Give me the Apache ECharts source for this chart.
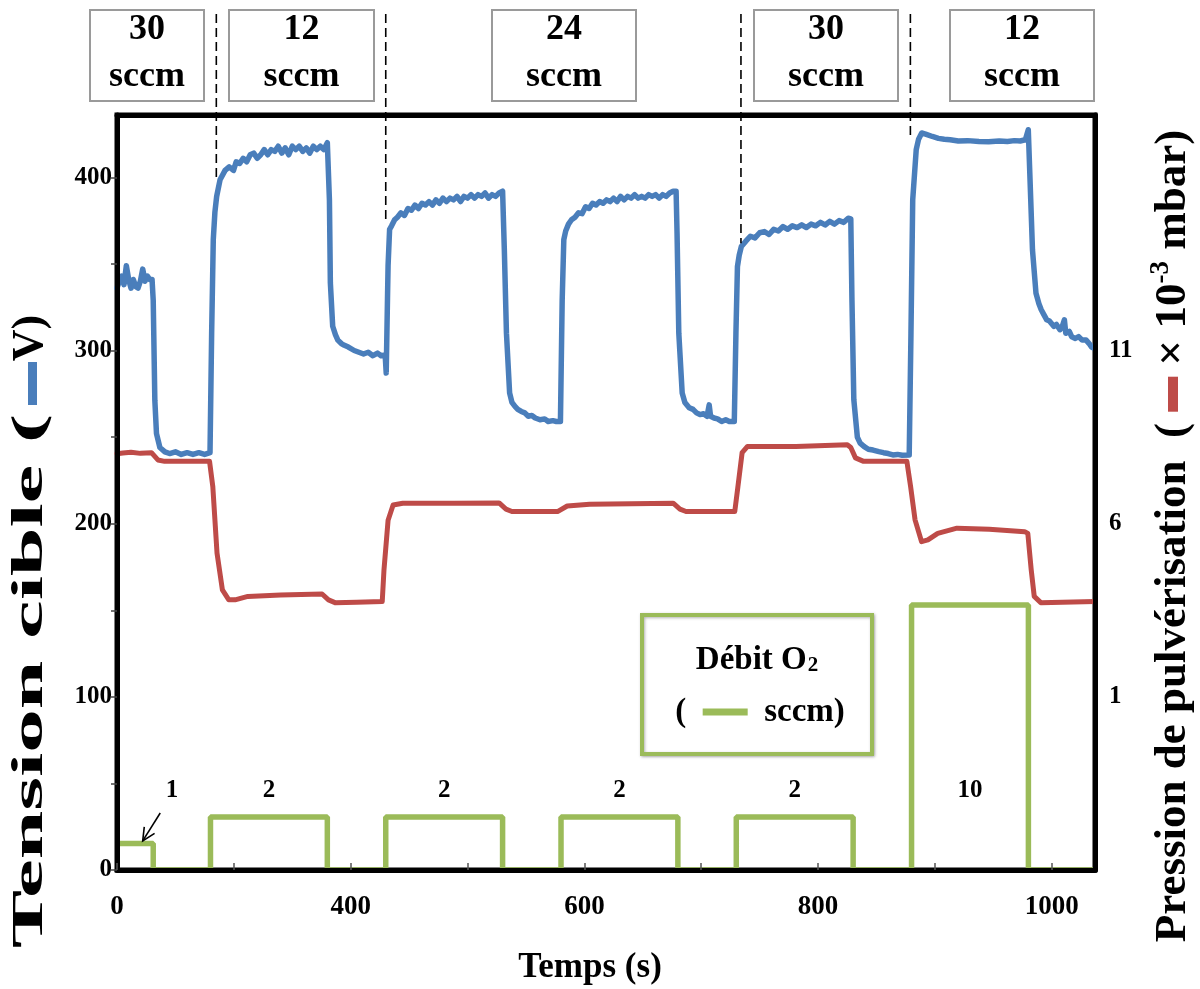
<!DOCTYPE html>
<html><head><meta charset="utf-8">
<script src="https://cdn.jsdelivr.net/npm/echarts@6/dist/echarts.min.js"></script>
<style>html,body{margin:0;padding:0;background:#fff}#c{width:1200px;height:989px}</style>
</head><body><div id="c"></div>
<script>
// ---- DATA ----
// Target voltage (V) vs time (s)
const voltage = [[200,336],[202,340],[204,343],[206,338],[208,349],[210,341],[212,336],[214,341],[216,337],[218,336],[220,340],[222,347],[224,340],[226,343],[228,341],[230,341],
[231,329],[232.4,271],[233.8,252],[236.7,244],[241,241.5],[245,240.5],[250,241.5],[255,240],[260,241],[265,240],[270,241],[275,240],[279.6,241],
[281,310],[282.4,364],[283.8,380],[285.3,389],[288.2,398.6],[292.5,404],[296,406],[299.7,404],[302,409],[305,408],[308,411],[311,409],[314,413],[317,414],[320,411],[323,413],[326,416],[329,413],[332,416],[335,415],[338,418],[341,414],[344,417],[347,413],[350,418],[353,416],[356,418],[359,415],[362,417],[365,414],[368,418],[371,416],[374,418],[377,416],[380,420],
[381.8,387],[382.6,339],[384.6,314],[387,309],[389,306],[392,304],[394.6,303],[398,302],[403,300],[407,299],[411,298],[415,299],[419,297],[423,298.5],[426,297],[429.5,297.5],[430.4,287],
[431.5,330],[432,349],[433.3,370],[435,372],[437.6,375.5],[440,377],[443,379.5],[446,378],[449,382],[452,381],[455,384],[458,382],[461,385],[464,384],[467,386],[470,384],[473,387],[476,385],[479,388],[482,386],[485,388],[488,387],[491,389],[494,386],[497,389],[500,388],[503,390],[506,388],[509,390],[512,389],[515,391],[518,388],[521,390],[524,389],[527,391],[530,392],
[531.5,358],[533.3,310],[536,275.5],[538,270],[540.6,267.7],[543,266],[546,264.8],[549,264],[552,262],[555,262.5],[558,261],[562,260],[566,260.5],[569,259],[573,259.5],[576,259],[579.5,259],
[581,329],[582.4,364],[584,369],[586.4,373],[589,375.5],[592,377],[595,379.5],[598,379],[601,383],[604,382],[607,385],[610,384],[613,386],[616,385],[619,387],[622,386],[625,388],[628,386],[631,389],[634,387],[637,389],[640,388],[643,390],[646,388],[649,389],[652,388],[655,390],[658,389],[661,390],[664,388],[667,390],[670,389],[673,391],[676,392],[678.5,392],
[679.3,368],[680.8,310],[683.7,275.5],[686,270],[689.7,267],[693,266],[696,264],[699,263],[702,263.5],[705,262],[706.8,268.6],[708,262],[711,261],[714,260.5],[717.5,259],[721,260],[724,259],[728.3,259],
[729.7,310],[731,348.5],[732.5,355],[734.3,360],[738,363],[742,366],[746,365],[750,368],[754,368.7],[758,367],[762,370],[766,369],[770,371.6],[774,370],[778,372],[782,371],[786,372.6],[790,371],[794,373],[798,372],[802,374],[806,372.5],[810,374.6],[814,373],[818,375],[822,374],[825.8,376.4],[828,376],
[829,329],[830.6,271.5],[833.6,250],[836,246.5],[839.5,244.5],[843,243],[847,242.5],[852,241.6],[856,241],[860,240.5],[864,239.7],[868,240],[872,239.5],[878,239.7],
[879.5,310],[881,387],[884,416],[886,422],[888.7,425.6],[892,425],[897.8,423.6],[903,422.5],[908,422],[913,421.7],[920,421],[928,421.2],[937.7,420.7],[946,420.5],[955,421],[962,420.7],[968,421.2],[973,421],[977.4,421.7],[979.9,427.5],
[982,387],[983.5,358],[986.5,333],[989,327],[991,323.5],[993,321],[995.7,317.7],[998,317],[1001.9,313.9],[1004,315],[1007,312],[1009,314],[1010.8,317.7],[1012,310],[1015,311],[1017,308],[1020.2,307],[1023,308],[1026,306],[1029.4,306],[1032,304],[1034,302],[1037,301]];

// Sputtering pressure (x 10^-3 mbar) vs time (s)
const pressure = [[200,8.02],[205,8.04],[212,8.06],[220,8.03],[229.5,8.05],[235,7.84],[240.8,7.8],[260,7.8],[279.2,7.8],[282,7.07],[285.6,5.15],[290.2,4.09],[295.7,3.8],[301,3.8],[312,3.9],[340,3.94],[375.5,3.97],[381,3.8],[386.6,3.72],[405,3.73],[427,3.75],[428.5,4.67],[432,6.1],[436.3,6.54],[444.6,6.59],[488.5,6.59],[527,6.6],[532.9,6.42],[538,6.35],[577,6.35],[585.3,6.51],[604.5,6.56],[676,6.59],[681.8,6.42],[687,6.35],[728.7,6.35],[731.4,7.07],[735,8.05],[739.6,8.23],[780.9,8.23],[825,8.28],[828,8.2],[832,7.9],[839,7.8],[876,7.8],[879.2,7.07],[883,6.11],[888.6,5.48],[894,5.53],[902.4,5.72],[918.9,5.87],[946.5,5.84],[976.8,5.77],[979.5,5.72],[982.4,4.67],[985,3.9],[990.6,3.72],[1037,3.75]];

// O2 flow (sccm) step changes
const o2Time = [200,231,280,380,430,530,580,680,730,830,880,980,1037];
const o2Flow = [1,0,2,0,2,0,2,0,2,0,10,0,0];

// Pulse value labels
const pulseLabelTime = [247,330,480,630,780,930];
const pulseLabelText = ['1','2','2','2','2','10'];
const pulseLabelLevel = 3;

// Ar flow boxes at top
const arFlowValues = ['30','12','24','30','12'];
// Ar flow change moments (dashed lines): time and end voltage
const changeTime = [285,430,734,879];
const changeEndV = [400,373,362,423];
// arrow pointing to the 1 sccm step (time, sccm)
const arrowTail = [237,2.15];
const arrowTip = [222,1.1];

// Ticks and tick labels
const xTicks = [200,300,400,500,600,700,800,900,1000];
const xTickLabels = {200:'0',400:'400',600:'600',800:'800',1000:'1000'};
const leftTicks = [0,50,100,150,200,250,300,350,400];
const leftTickLabels = [0,100,200,300,400];
const rightTickLabels = [1,6,11];

// ---- CHART ----
const SERIF = '"Liberation Serif","Times New Roman",serif';
const BLUE = '#4a7ebb', RED = '#be4b48', GREEN = '#9bbb59';
const chart = echarts.init(document.getElementById('c'));

const option = {
  animation:false,
  backgroundColor:'#fff',
  grid:{left:117,right:105,top:115,bottom:119,show:true,borderColor:'#000',borderWidth:5,backgroundColor:'transparent'},
  xAxis:[{
    type:'value',min:200,max:1037,position:'bottom',z:10,
    axisLine:{show:true,onZero:false,lineStyle:{color:'#000',width:5}},
    axisTick:{show:true,inside:true,length:7,customValues:xTicks,lineStyle:{color:'#555',width:1.5}},
    axisLabel:{margin:24,fontFamily:SERIF,fontWeight:'bold',fontSize:27,color:'#000',
      customValues:Object.keys(xTickLabels).map(Number),
      formatter:v=> (xTickLabels[v]!==undefined?xTickLabels[v]:'')},
    splitLine:{show:false}
  },{
    type:'value',min:200,max:1037,position:'top',z:10,
    axisLine:{show:true,onZero:false,lineStyle:{color:'#000',width:5}},
    axisTick:{show:false},axisLabel:{show:false},splitLine:{show:false}
  }],
  yAxis:[{
    type:'value',min:0,max:436,position:'left',z:10,
    axisLine:{show:true,onZero:false,lineStyle:{color:'#000',width:5}},
    axisTick:{show:true,length:6,customValues:leftTicks,lineStyle:{color:'#444',width:1.5}},
    axisLabel:{margin:5,fontFamily:SERIF,fontWeight:'bold',fontSize:25,color:'#000',
      customValues:leftTickLabels,formatter:v=>String(v)},
    splitLine:{show:false}
  },{
    type:'value',min:-4,max:17.8,position:'right',z:10,
    axisLine:{show:true,onZero:false,lineStyle:{color:'#000',width:5}},
    axisTick:{show:false},
    axisLabel:{margin:14,fontFamily:SERIF,fontWeight:'bold',fontSize:25,color:'#000',
      customValues:rightTickLabels,formatter:v=>String(v)},
    splitLine:{show:false}
  },{
    type:'value',min:0,max:28.5,show:false
  }],
  series:[{
    name:'Tension cible',type:'line',xAxisIndex:0,yAxisIndex:0,data:voltage,symbol:'none',
    lineStyle:{color:BLUE,width:5.5,cap:'round',join:'round'},z:3
  },{
    name:'Pression de pulvérisation',type:'line',xAxisIndex:0,yAxisIndex:1,data:pressure,symbol:'none',
    lineStyle:{color:RED,width:5,cap:'round',join:'round'},z:2
  },{
    name:'Débit O2',type:'line',xAxisIndex:0,yAxisIndex:2,step:'end',
    data:o2Time.map((t,i)=>[t,o2Flow[i]]),symbol:'none',
    lineStyle:{color:GREEN,width:5.5},z:2
  }]
};
chart.setOption(option);

// ---- ANNOTATIONS ----
const g = [];
const P = (si,p)=>chart.convertToPixel({seriesIndex:si},p);

// Ar flow boxes (layout)
const boxLeft = [90,229,492,754,950];
const boxWidth = [114,145,144,144,144];
arFlowValues.forEach((v,i)=>{
  g.push({type:'rect',shape:{x:boxLeft[i],y:10,width:boxWidth[i],height:91},
    style:{fill:'#fff',stroke:'#9a9a9a',lineWidth:2},z:20});
  g.push({type:'text',x:boxLeft[i]+boxWidth[i]/2,y:53,z:21,
    style:{text:v+'\nsccm',fontFamily:SERIF,fontWeight:'bold',fontSize:36,lineHeight:47,
      fill:'#000',align:'center',verticalAlign:'middle'}});
});
// dashed change lines
changeTime.forEach((t,i)=>{
  const p = P(0,[t,changeEndV[i]]);
  g.push({type:'line',shape:{x1:p[0],y1:14,x2:p[0],y2:p[1]},
    style:{stroke:'#000',lineWidth:1.6,lineDash:[9,5]},z:19});
});
// pulse labels
pulseLabelTime.forEach((t,i)=>{
  const p = P(2,[t,pulseLabelLevel]);
  g.push({type:'text',x:p[0],y:p[1],z:21,
    style:{text:pulseLabelText[i],fontFamily:SERIF,fontWeight:'bold',fontSize:25,fill:'#000',align:'center',verticalAlign:'middle'}});
});
// arrow
(function(){
  const a = P(2,arrowTail), b = P(2,arrowTip);
  const ang = Math.atan2(b[1]-a[1], b[0]-a[0]);
  const L = 14, w = 0.45;
  g.push({type:'line',shape:{x1:a[0],y1:a[1],x2:b[0],y2:b[1]},style:{stroke:'#000',lineWidth:1.6},z:21});
  g.push({type:'polyline',shape:{points:[
    [b[0]-L*Math.cos(ang-w), b[1]-L*Math.sin(ang-w)],[b[0],b[1]],
    [b[0]-L*Math.cos(ang+w), b[1]-L*Math.sin(ang+w)]]},style:{stroke:'#000',lineWidth:1.6,fill:null},z:21});
})();
// legend box
g.push({type:'rect',shape:{x:642,y:615,width:230,height:139},
  style:{fill:'#fff',stroke:GREEN,lineWidth:4,shadowBlur:3,shadowColor:'rgba(0,0,0,0.3)',shadowOffsetX:1,shadowOffsetY:1},z:20});
g.push({type:'text',x:757,y:660,z:21,style:{text:'Débit O{sub|2}',fontFamily:SERIF,fontWeight:'bold',fontSize:33,fill:'#000',align:'center',verticalAlign:'middle',
  rich:{sub:{fontFamily:SERIF,fontWeight:'bold',fontSize:21,verticalAlign:'bottom',padding:[12,0,0,1]}}}});
g.push({type:'text',x:760,y:712,z:21,style:{text:'(  {bar| }  sccm)',fontFamily:SERIF,fontWeight:'bold',fontSize:33,fill:'#000',align:'center',verticalAlign:'middle',
  rich:{bar:{width:45,height:7,backgroundColor:GREEN}}}});
// axis titles
g.push({type:'text',x:590,y:968,z:21,style:{text:'Temps (s)',fontFamily:SERIF,fontWeight:'bold',fontSize:35,fill:'#000',align:'center',verticalAlign:'middle'}});
// left title, in three pieces (stretched text as in the reference)
g.push({type:'text',x:31,y:681,rotation:Math.PI/2,scaleX:1.98,z:21,
  style:{text:'Tension cible (',fontFamily:SERIF,fontWeight:'bold',fontSize:44,fill:'#000',align:'center',verticalAlign:'middle'}});
g.push({type:'rect',shape:{x:28,y:362,width:9,height:43},style:{fill:BLUE},z:21});
g.push({type:'text',x:31,y:338,rotation:Math.PI/2,z:21,
  style:{text:'V)',fontFamily:SERIF,fontWeight:'bold',fontSize:44,fill:'#000',align:'center',verticalAlign:'middle'}});
g.push({type:'text',x:1173,y:536,rotation:Math.PI/2,z:21,
  style:{text:'Pression de pulvérisation  ( {bar| } × 10{sup|-3} mbar)',fontFamily:SERIF,fontWeight:'bold',fontSize:45,fill:'#000',align:'center',verticalAlign:'middle',lineHeight:50,
    rich:{bar:{width:35,height:10,backgroundColor:RED},sup:{fontFamily:SERIF,fontWeight:'bold',fontSize:27,verticalAlign:'top',lineHeight:50,padding:[0,0,14,0]}}}});
chart.setOption({graphic:g});
</script>
</body></html>
